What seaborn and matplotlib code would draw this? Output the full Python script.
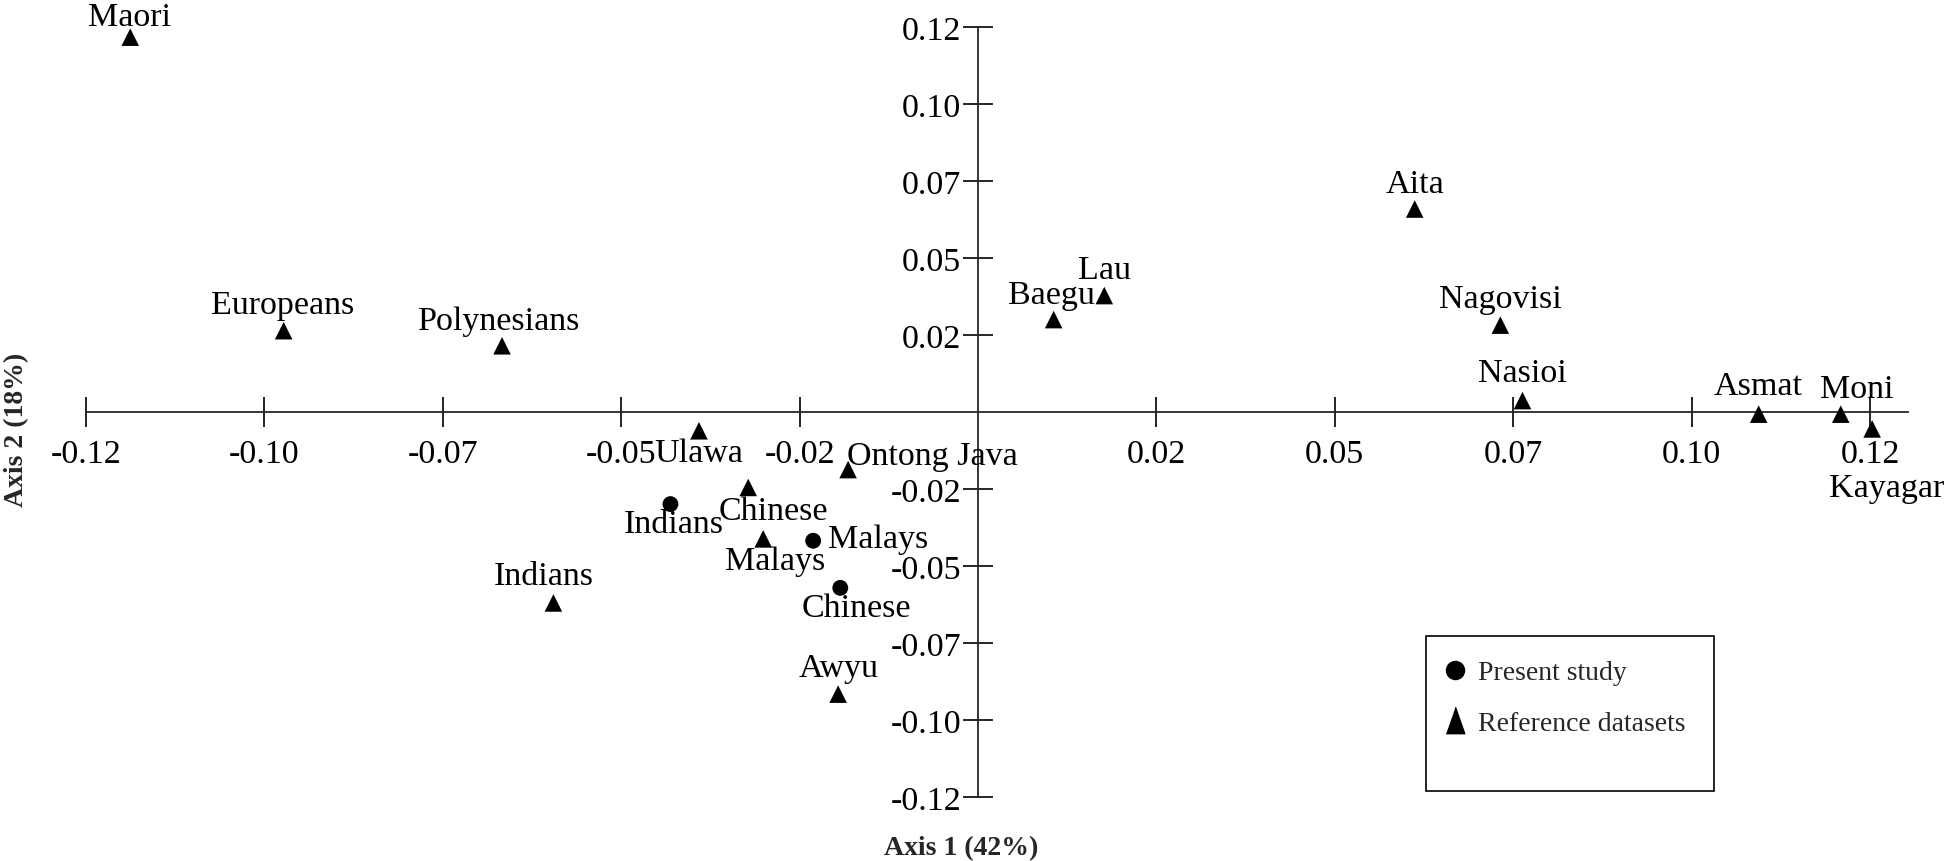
import matplotlib
matplotlib.use("Agg")
import matplotlib.pyplot as plt
import seaborn as sns
import pandas as pd
from matplotlib.lines import Line2D
from matplotlib.patches import Rectangle

# ---------------- data ----------------
populations = ["Maori", "Europeans", "Polynesians", "Ulawa", "Ontong Java", "Chinese",
               "Indians", "Malays", "Malays", "Chinese", "Indians", "Awyu",
               "Baegu", "Lau", "Aita", "Nagovisi", "Nasioi", "Asmat", "Moni", "Kayagar"]
axis1 = [-0.1188, -0.0973, -0.0667, -0.0391, -0.0182, -0.0322,
         -0.0431, -0.0301, -0.0231, -0.0193, -0.0595, -0.0196,
         0.0106, 0.0177, 0.0612, 0.0732, 0.0763, 0.1094, 0.1209, 0.1253]
axis2 = [0.1218, 0.0265, 0.0216, -0.0060, -0.0186, -0.0244,
         -0.0298, -0.0411, -0.0417, -0.0570, -0.0619, -0.0915,
         0.0301, 0.0379, 0.0660, 0.0283, 0.0038, -0.0006, -0.0006, -0.0054]
dataset = ["Reference datasets", "Reference datasets", "Reference datasets", "Reference datasets",
           "Reference datasets", "Reference datasets", "Present study", "Reference datasets",
           "Present study", "Present study", "Reference datasets", "Reference datasets",
           "Reference datasets", "Reference datasets", "Reference datasets", "Reference datasets",
           "Reference datasets", "Reference datasets", "Reference datasets", "Reference datasets"]

tick_values = [-0.125, -0.1, -0.075, -0.05, -0.025, 0.025, 0.05, 0.075, 0.1, 0.125]
tick_labels = ["-0.12", "-0.10", "-0.07", "-0.05", "-0.02", "0.02", "0.05", "0.07", "0.10", "0.12"]
xlabel_text = "Axis 1 (42%)"
ylabel_text = "Axis 2 (18%)"
legend_labels = ["Present study", "Reference datasets"]

# label layout: offset of label from marker (pixels, +up) and alignment
label_layout = [(-1, 12, "center"), (-1, 18, "center"), (-3, 17, "center"), (0, -30, "center"),
                (-1, 6, "left"), (25, -32, "center"), (3, -28, "center"), (12, -30, "center"),
                (15, -6, "left"), (16, -28, "center"), (-10, 19, "center"), (0, 18, "center"),
                (-2, 17, "center"), (0, 18, "center"), (0, 17, "center"), (0, 18, "center"),
                (0, 20, "center"), (-1, 20, "center"), (16, 17, "center"), (14, -67, "center")]

df = pd.DataFrame({"Population": populations, "Axis1": axis1, "Axis2": axis2, "Dataset": dataset})

# ---------------- style ----------------
sns.set_style("white")
plt.rcParams["font.family"] = ["Liberation Serif", "DejaVu Serif"]
plt.rcParams["axes.linewidth"] = 1.3

W, H, DPI = 1946, 862, 100
fig = plt.figure(figsize=(W / DPI, H / DPI), dpi=DPI)
ax = fig.add_axes([0, 0, 1, 1])
ax.set_facecolor("white")

sns.scatterplot(data=df, x="Axis1", y="Axis2", style="Dataset", size="Dataset",
                markers={"Present study": "o", "Reference datasets": "^"},
                sizes={"Present study": 130, "Reference datasets": 160},
                color="black", linewidth=0, legend=False, ax=ax, zorder=3)

# pixel mapping: x=0 at px 978, 7136 px per unit; y=0 at px 413.3, 3080 px per unit
x0_px, xs = 978.0, 7136.0
y0_px, ys = 413.3, 3080.0
ax.set_xlim(-x0_px / xs, (W - x0_px) / xs)
ax.set_ylim((y0_px - H) / ys, y0_px / ys)

for sp in ["top", "right"]:
    ax.spines[sp].set_visible(False)
ax.spines["left"].set_position(("data", 0))
ax.spines["bottom"].set_position(("data", 0))
ax.spines["left"].set_bounds(-0.125, 0.125)
ax.spines["bottom"].set_bounds(-0.125, 0.1303)

ax.set_xticks(tick_values)
ax.set_xticklabels(tick_labels)
ax.set_yticks(tick_values)
ax.set_yticklabels(tick_labels)
ax.tick_params(axis="both", which="major", direction="inout", length=22, width=1.2,
               labelsize=24.5, colors="black", bottom=True, left=True, top=False, right=False)
ax.tick_params(axis="x", pad=8)
ax.tick_params(axis="y", pad=1)
ax.set_xlabel("")
ax.set_ylabel("")

px2pt = 72.0 / DPI
for name, xv, yv, (dx, dy, ha) in zip(populations, axis1, axis2, label_layout):
    ax.annotate(name, (xv, yv), xytext=(dx * px2pt, dy * px2pt), textcoords="offset points",
                ha=ha, va="baseline", fontsize=24.5, color="black", zorder=4)

fig.text(961 / W, 1 - 855 / H, xlabel_text, ha="center", va="baseline",
         fontsize=20, fontweight="bold")
fig.text(17 / W, 1 - 430 / H, ylabel_text, ha="center", va="center", rotation=90,
         fontsize=20, fontweight="bold")

# legend
tall_triangle = [(-0.7, -1.0), (0.7, -1.0), (0.0, 1.0)]
handles = [Line2D([], [], marker="o", color="black", linestyle="", markersize=13),
           Line2D([], [], marker=tall_triangle, color="black", linestyle="", markersize=19)]
fig.legend(handles, legend_labels, loc="upper left",
           bbox_to_anchor=(1441 / W, 1 - 661 / H), frameon=False, fontsize=20,
           handlelength=1.0, handletextpad=0.35, labelspacing=0.9, borderpad=0,
           borderaxespad=0)
fig.patches.append(Rectangle((1426 / W, 1 - 792 / H), 288 / W, 155 / H,
                             transform=fig.transFigure, fill=False,
                             edgecolor="black", linewidth=1.2))

fig.savefig("out.png", dpi=DPI, facecolor="white")
